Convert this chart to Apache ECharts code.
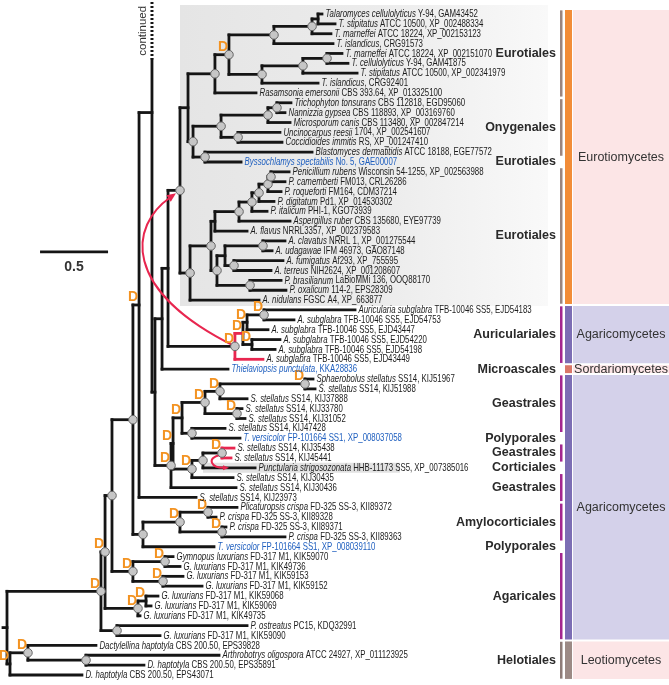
<!DOCTYPE html>
<html><head><meta charset="utf-8">
<script src="https://cdn.jsdelivr.net/npm/echarts@6/dist/echarts.min.js"></script>
<style>html,body{margin:0;padding:0;background:#fff}#c{width:669px;height:685px}</style>
</head><body><div id="c"></div>
<script>
// ---------------- DATA ----------------
const leafSpecies = ['Talaromyces cellulolyticus','T. stipitatus','T. marneffei','T. islandicus','T. marneffei','T. cellulolyticus','T. stipitatus','T. islandicus','Rasamsonia emersonii','Trichophyton tonsurans','Nannizzia gypsea','Microsporum canis','Uncinocarpus reesii','Coccidioides immitis','Blastomyces dermatitidis','Byssochlamys spectabilis','Penicillium rubens','P. camemberti','P. roqueforti','P. digitatum','P. italicum','Aspergillus ruber','A. flavus','A. clavatus','A. udagawae','A. fumigatus','A. terreus','P. brasilianum','P. oxalicum','A. nidulans',
'Auricularia subglabra','A. subglabra','A. subglabra','A. subglabra','A. subglabra','A. subglabra','Thielaviopsis punctulata',
'Sphaerobolus stellatus','S. stellatus','S. stellatus','S. stellatus','S. stellatus','S. stellatus','T. versicolor','S. stellatus','S. stellatus','Punctularia strigosozonata','S. stellatus','S. stellatus','S. stellatus',
'Plicaturopsis crispa','P. crispa','P. crispa','P. crispa','T. versicolor','Gymnopus luxurians','G. luxurians','G. luxurians','G. luxurians','G. luxurians','G. luxurians','G. luxurians','P. ostreatus','G. luxurians',
'Dactylellina haptotyla','Arthrobotrys oligospora','D. haptotyla','D. haptotyla'];
const leafStrain = [' Y-94, GAM43452',' ATCC 10500, XP_002488334',' ATCC 18224, XP_002153123',', CRG91573',' ATCC 18224, XP_002151070',' Y-94, GAM41875',' ATCC 10500, XP_002341979',', CRG92401',' CBS 393.64, XP_013325100',' CBS 112818, EGD95060',' CBS 118893, XP_003169760',' CBS 113480, XP_002847214',' 1704, XP_002541607',' RS, XP_001247410',' ATCC 18188, EGE77572',' No. 5, GAE00007',' Wisconsin 54-1255, XP_002563988',' FM013, CRL26286',' FM164, CDM37214',' Pd1, XP_014530302',' PHI-1, KGO73939',' CBS 135680, EYE97739',' NRRL3357, XP_002379583',' NRRL 1, XP_001275544',' IFM 46973, GAO87148',' Af293, XP_755595',' NIH2624, XP_001208607',' LaBioMMi 136, OOQ88170',' 114-2, EPS28309',' FGSC A4, XP_663877',
' TFB-10046 SS5, EJD54183',' TFB-10046 SS5, EJD54753',' TFB-10046 SS5, EJD43447',' TFB-10046 SS5, EJD54220',' TFB-10046 SS5, EJD54198',' TFB-10046 SS5, EJD43449',', KKA28836',
' SS14, KIJ51967',' SS14, KIJ51988',' SS14, KIJ37888',' SS14, KIJ33780',' SS14, KIJ31052',' SS14, KIJ47428',' FP-101664 SS1, XP_008037058',' SS14, KIJ35438',' SS14, KIJ45441',' HHB-11173 SS5, XP_007385016',' SS14, KIJ30435',' SS14, KIJ30436',' SS14, KIJ23973',
' FD-325 SS-3, KII89372',' FD-325 SS-3, KII89328',' FD-325 SS-3, KII89371',' FD-325 SS-3, KII89363',' FP-101664 SS1, XP_008039110',' FD-317 M1, KIK59070',' FD-317 M1, KIK49736',' FD-317 M1, KIK59153',' FD-317 M1, KIK59152',' FD-317 M1, KIK59068',' FD-317 M1, KIK59069',' FD-317 M1, KIK49735',' PC15, KDQ32991',' FD-317 M1, KIK59090',
' CBS 200.50, EPS39828',' ATCC 24927, XP_011123925',' CBS 200.50, EPS35891',' CBS 200.50, EPS43071'];
// tip depth (substitutions per site, from root)
const leafTip = [2.316,2.412,2.382,2.397,2.463,2.507,2.574,2.287,1.831,2.088,2.044,2.081,2.007,2.022,2.243,1.721,2.074,2.044,2.015,1.963,1.912,2.081,1.765,2.044,1.949,2.029,1.941,2.015,2.051,1.853,
2.559,2.110,1.919,2.007,1.971,1.882,1.625,
2.250,2.265,1.765,1.728,1.750,1.603,1.713,1.669,1.647,1.824,1.662,1.684,1.390,
1.691,1.537,1.610,2.044,1.522,1.221,1.272,1.294,1.434,1.110,1.059,0.978,1.765,1.125,
0.654,1.559,1.007,0.551];
const leafParent = ['E7','E7','E6','E5','E10','E10','E9','E8','E2','E15','E15','E13','E14','E14','E12','E12','PE4','PE4','PE3','PE2','PE1','E19','E18','E24','E24','E25','E25','E26','E26','E16',
'U2','U2','U2p','U3','U3','AU','W',
'N3839','N3839','N40','N4142','N4142','N5','N5','N4546','N4546','N8','N9','S0','Q',
'PL1','PL1','PL2','PL2','PL','GY1','GY1','GY2','GY2','N2','N2','N1','P1','P1',
'DAC','AO','AO','R1'];
const blueLeaves = [16,37,44,55];
// internal nodes
const nodeIds    = ['R0','R1','A','DAC','AO','B','P1','C','N1','N2','D1','GY','GY1','GY2','Q','PL','N10','PL1','PL2','X','Z','W','V','E0','AU','U1','U2p','U2','U3','S0','S1','N6','N4','N40','N3839','N4142','N5','N9','N8','N4546','E1','E2','E4','E5','E6','E7','E8','E9','E10','E3','E11','E13','E15','E14','E12','E16','E17','E18','E19','PE1','PE2','PE3','PE4','E20','E21','E24','E25','E26'];
const nodeParent = [null,'R0','R0','R1','DAC','A','A','B','B','N1','C','C','GY','GY','D1','D1','PL','N10','N10','Q','X','Z','W','V','V','AU','U1','U2p','U1','Z','S0','S1','N6','N4','N40','N4','N6','S1','N9','N8','E0','E1','E2','E4','E5','E6','E4','E8','E9','E1','E3','E11','E13','E11','E3','E0','E16','E17','E18','E19','PE1','PE2','PE3','E17','E20','E21','E21','E20'];
const nodeDepth  = [0,0.022,0.691,0.154,0.581,0.721,0.809,0.772,0.963,1.022,0.926,0.926,1.162,1.147,0.971,1.000,1.272,1.478,1.581,1.066,1.088,1.140,1.184,1.272,1.676,1.735,1.765,1.890,1.801,1.206,1.221,1.287,1.456,1.566,2.191,1.691,1.360,1.360,1.441,1.581,1.331,1.529,1.632,1.963,2.243,2.287,1.875,2.176,2.353,1.368,1.574,1.919,1.985,1.699,1.456,1.346,1.500,1.529,1.706,1.801,1.853,1.919,1.941,1.544,1.603,1.882,1.669,1.787];
const nodeCircle = [0,0,1,1,1,1,1,1,1,0,1,1,1,1,0,1,1,1,1,0,0,0,0,1,1,0,0,1,0,1,0,0,1,1,1,1,1,1,1,1,0,1,1,1,1,0,1,1,1,1,1,1,1,1,1,1,1,0,1,1,1,1,1,1,0,1,1,1];
const nodeDup    = [0,1,1,1,0,1,0,0,1,1,0,1,1,1,1,0,1,1,1,0,0,0,0,0,1,1,1,1,1,1,1,1,1,1,1,1,0,1,0,1,0,0,1,0,0,0,0,0,0,0,0,0,0,0,0,0,0,0,0,0,0,0,0,0,0,0,0,0];
const continuedNode = 'X', continuedRow = -18.35;
const redEdges = ['AU>U1','AU>35','N4546>44','N4546>45'];
const redVerticals = ['AU','N4546'];
const transfers = [['AU','E0'],['N4546','leaf47']];
const highlightClade = 'E0', highlightLeaves = [1,30];
const highlightLeaf = 47;
const scaleBarValue = 0.5;
const orderNames = ['Eurotiales','Onygenales','Eurotiales','Eurotiales','Auriculariales','Microascales','Geastrales','Polyporales','Geastrales','Corticiales','Geastrales','Amylocorticiales','Polyporales','Agaricales','Helotiales'];
const orderFrom  = [1,10,16,17,31,37,38,44,45,47,48,51,55,56,65];
const orderTo    = [9,15,16,30,36,37,43,44,46,47,50,54,55,64,68];
const orderBar   = [1,1,0,1,1,0,1,0,1,0,1,1,0,1,1];
const orderClass = [0,0,0,0,1,2,3,3,3,3,3,3,3,3,4];
const classNames = ['Eurotiomycetes','Agaricomycetes','Sordariomycetes','Agaricomycetes','Leotiomycetes'];
const classFrom  = [1,31,37,38,65];
const classTo    = [30,36,37,64,68];
const classBarColor  = ['#F28C38','#7C6DB4','#DA7668','#7C6DB4','#9C8A85'];
const classBoxColor  = ['#FCE5E6','#D4D1EA','#FCE5E6','#D4D1EA','#FCE5E6'];
const orderBarColor  = ['#9A8580','#A3268F','#A3268F','#A3268F','#8E7C78'];

// ---------------- TREE BUILD ----------------
const nodes = {};
nodeIds.forEach((id,i)=>{nodes[id]={id,depth:nodeDepth[i],parent:nodeParent[i],circle:!!nodeCircle[i],dup:!!nodeDup[i],kids:[]};});
nodeIds.forEach(id=>{const p=nodes[id].parent; if(p) nodes[p].kids.push({t:'n',id});});
leafSpecies.forEach((s,i)=>nodes[leafParent[i]].kids.push({t:'l',i}));
function kidRow(k){return k.t==='l'?k.i:nodeRow(k.id);}
function kidDepth(k){return k.t==='l'?leafTip[k.i]:nodes[k.id].depth;}
function nodeRow(id){const n=nodes[id]; if(n.row!==undefined) return n.row;
  const rows=n.kids.map(kidRow); if(id===continuedNode) rows.push(continuedRow);
  n.row=(Math.min(...rows)+Math.max(...rows))/2; return n.row;}
nodeIds.forEach(nodeRow);

const ROW = 9.866;
const X_MIN = -7/136, X_MAX = (669-7)/136;
const Y_MIN = -14/ROW, Y_MAX = 67 + 10/ROW;
const F = 'Liberation Sans, Arial, Helvetica, sans-serif';
const BLACK = '#151515', RED = '#E8264F', DCOL = '#F39322';
const LW = 2.8;

function renderItem(params, api){
  const P=(d,r)=>api.coord([d,r]);
  const out=[];
  const line=(x1,y1,x2,y2,c,w,dash,cap)=>out.push({type:'line',shape:{x1,y1,x2,y2},style:{stroke:c,lineWidth:w,lineCap:cap||'square',lineDash:dash||null}});
  const rect=(x,y,w,h,fill)=>out.push({type:'rect',shape:{x,y,width:w,height:h},style:{fill}});
  const txt=(x,y,text,o)=>out.push(Object.assign({type:'text',x,y,style:Object.assign({x:0,y:0,text,fontFamily:F,fontSize:10,fill:'#222',align:'left',verticalAlign:'middle',textAlign:'left',textVerticalAlign:'middle'},o.style||{})},o.el||{}));

  // Eurotiomycetes highlight box
  const e0=P(nodes[highlightClade].depth,0);
  const bTop=P(0,highlightLeaves[0]-1-0.9)[1], bBot=P(0,highlightLeaves[1]-1+0.6)[1];
  out.push({type:'rect',shape:{x:e0[0],y:bTop,width:548-e0[0],height:bBot-bTop},style:{fill:new echarts.graphic.LinearGradient(0,0,1,0,[{offset:0,color:'#E5E5E5'},{offset:0.55,color:'#ECECEC'},{offset:1,color:'#F9F9F9'}])}});
  // Punctularia highlight
  const hl=P(nodes[leafParent[highlightLeaf-1]].depth,highlightLeaf-1);
  rect(hl[0],hl[1]-5,400-hl[0],10,'#E2E2E2');

  // class boxes & bars
  classNames.forEach((nm,i)=>{
    const y1=P(0,classFrom[i]-1-0.45)[1]+0.5, y2=P(0,classTo[i]-1+0.45)[1]-0.5;
    rect(565,y1,7,y2-y1,classBarColor[i]);
    rect(573,y1,96,y2-y1,classBoxColor[i]);
    txt(621,(y1+y2)/2,nm,{style:{fontSize:12.5,fill:'#333',align:'center',textAlign:'center'}});
  });
  orderNames.forEach((nm,i)=>{
    const y1=P(0,orderFrom[i]-1-0.45)[1]+0.8, y2=P(0,orderTo[i]-1+0.45)[1]-0.8;
    if(orderBar[i]) rect(560,y1,2.5,y2-y1,orderBarColor[orderClass[i]]);
    txt(556,(y1+y2)/2,nm,{style:{fontSize:12.5,fontWeight:'bold',fill:'#2a2a2a',align:'right',textAlign:'right'}});
  });

  // tree edges
  const redLines=[];
  nodeIds.forEach(id=>{
    const n=nodes[id]; const px=P(n.depth,n.row);
    const rows=n.kids.map(kidRow);
    const isRedV=redVerticals.includes(id);
    if(id===continuedNode){
      const zy=P(0,Math.max(...rows))[1];
      const yBreak=px[1]-53;
      line(px[0],yBreak,px[0],zy,BLACK,LW);
      line(px[0],2,px[0],yBreak,BLACK,3,[2,2],'butt');
      out.push({type:'text',x:px[0]-9,y:(2+yBreak)/2,rotation:Math.PI/2,style:{x:0,y:0,text:'continued',fontFamily:F,fontSize:11.5,fill:'#333',align:'center',verticalAlign:'middle',textAlign:'center',textVerticalAlign:'middle'}});
    } else {
      const y1=P(0,Math.min(...rows))[1], y2=P(0,Math.max(...rows))[1];
      (isRedV?redLines:out).push({type:'line',shape:{x1:px[0],y1,x2:px[0],y2},style:{stroke:isRedV?RED:BLACK,lineWidth:LW,lineCap:'square'}});
    }
    n.kids.forEach(k=>{
      const key=id+'>'+(k.t==='l'?k.i:k.id);
      const red=redEdges.includes(key);
      const c=P(kidDepth(k),kidRow(k));
      (red?redLines:out).push({type:'line',shape:{x1:px[0],y1:c[1],x2:c[0],y2:c[1]},style:{stroke:red?RED:BLACK,lineWidth:LW,lineCap:'square'}});
    });
    if(!n.parent){ line(px[0]-4,px[1],px[0],px[1],BLACK,LW); }
  });
  redLines.forEach(l=>out.push(l));

  // transfer arrows
  const arrowHead=(x,y,dx,dy,len,wid)=>{const L=Math.hypot(dx,dy);const ux=dx/L,uy=dy/L;
    out.push({type:'polygon',shape:{points:[[x,y],[x-ux*len-uy*wid/2,y-uy*len+ux*wid/2],[x-ux*len+uy*wid/2,y-uy*len-ux*wid/2]]},style:{fill:RED}});};
  transfers.forEach(([a,b],i)=>{
    const s=P(nodes[a].depth,nodes[a].row);
    let e, c1, c2;
    if(b.startsWith('leaf')){ const li=+b.slice(4)-1; const ee=P(nodes[a].depth,li); e=[ee[0]+7,ee[1]]; c1=[s[0]-16,s[1]+5]; c2=[e[0]-18,e[1]]; s[0]-=2; s[1]+=2;}
    else { const t=P(nodes[b].depth,nodes[b].row); e=[t[0]-4,t[1]+3]; c1=[s[0]-115,s[1]-57]; c2=[e[0]-46,e[1]+32]; }
    const sz=i===0?9:6;
    const L=Math.hypot(e[0]-c2[0],e[1]-c2[1]);
    const e2=[e[0]-(e[0]-c2[0])/L*sz*0.8,e[1]-(e[1]-c2[1])/L*sz*0.8];
    out.push({type:'bezierCurve',shape:{x1:s[0],y1:s[1],x2:e2[0],y2:e2[1],cpx1:c1[0],cpy1:c1[1],cpx2:c2[0],cpy2:c2[1]},style:{stroke:RED,lineWidth:2,fill:null}});
    arrowHead(e[0],e[1],e[0]-c2[0],e[1]-c2[1],sz,sz*0.85);
  });

  // node circles & D labels
  nodeIds.forEach(id=>{const n=nodes[id]; const p=P(n.depth,n.row);
    if(n.circle) out.push({type:'circle',shape:{cx:p[0],cy:p[1],r:4.3},style:{fill:'#C6C6C6',stroke:'#666',lineWidth:1}});
  });
  nodeIds.forEach(id=>{const n=nodes[id]; const p=P(n.depth,n.row);
    if(n.dup) txt(p[0]-6,p[1]-7.5,'D',{style:{fontSize:14,fontWeight:'bold',fill:DCOL,align:'center',textAlign:'center'}});
  });

  // leaf labels
  leafSpecies.forEach((sp,i)=>{
    const p=P(leafTip[i],i);
    const col=blueLeaves.includes(i+1)?'#1F5FBF':'#1c1c1c';
    out.push({type:'text',x:p[0]+3.5,y:p[1]+0.3,scaleX:0.77,scaleY:1,style:{x:0,y:0,text:'{i|'+sp+'}{n|'+leafStrain[i]+'}',
      rich:{i:{fontStyle:'italic',fontSize:10.2,fontFamily:F,fill:col,color:col},n:{fontSize:10.2,fontFamily:F,fill:col,color:col}},
      fill:col,fontSize:10.2,fontFamily:F,align:'left',verticalAlign:'middle',textAlign:'left',textVerticalAlign:'middle'}});
  });

  // scale bar
  const sb0=P(0.243,24.12), sb1=P(0.243+scaleBarValue,24.12);
  line(sb0[0],sb0[1],sb1[0],sb1[1],BLACK,2.8,null,'butt');
  txt((sb0[0]+sb1[0])/2,sb0[1]+15,String(scaleBarValue),{style:{fontSize:14,fontWeight:'bold',fill:'#333',align:'center',textAlign:'center'}});

  return {type:'group',children:out};
}

const chart=echarts.init(document.getElementById('c'),null,{renderer:'canvas'});
chart.setOption({
  animation:false,
  grid:{left:0,right:0,top:0,bottom:0},
  xAxis:{type:'value',min:X_MIN,max:X_MAX,show:false},
  yAxis:{type:'value',min:Y_MIN,max:Y_MAX,inverse:true,show:false},
  series:[{type:'custom',renderItem,data:[[0,0]],clip:false,silent:true}]
});
</script></body></html>
